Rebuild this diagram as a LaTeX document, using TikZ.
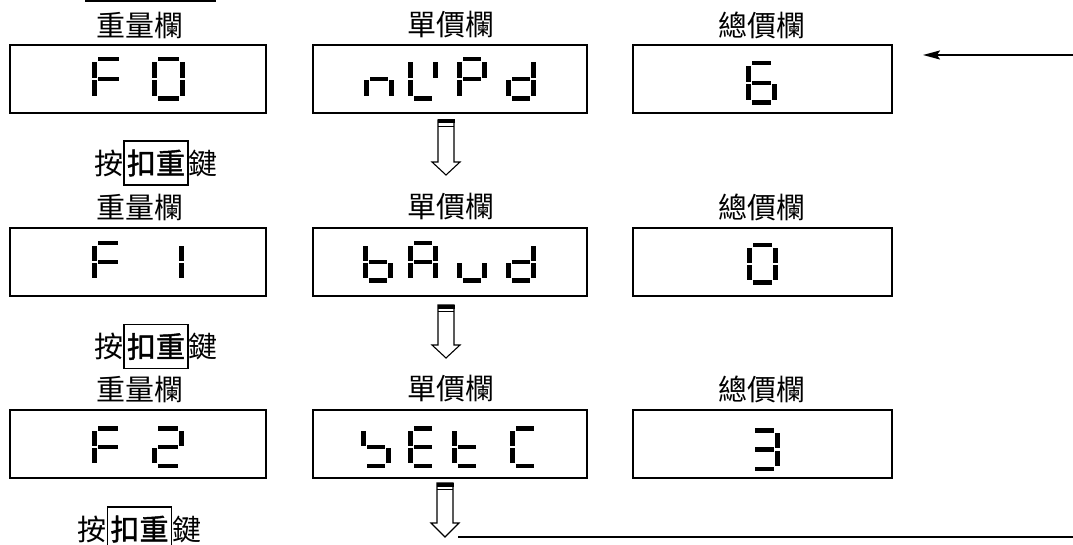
\documentclass[tikz,border=0pt]{standalone}
\usepackage{fontspec}
\newfontfamily\cjk{Noto Sans CJK TC}
\newfontfamily\cjkb[FakeBold=1.6]{Noto Sans CJK TC}
\usetikzlibrary{arrows.meta}
\newcommand\dg[5]{\def\dX{#1}\def\dY{#2}\def\dW{#3}\def\dH{#4}#5}
\newcommand\segA{\fill (\dX+6,\dY) rectangle (\dX+\dW-6,\dY+4.5);}
\newcommand\segB{\fill (\dX+\dW-5,\dY+5) rectangle (\dX+\dW,\dY+\dH/2-1.2);}
\newcommand\segC{\fill (\dX+\dW-5,\dY+\dH/2+1.2) rectangle (\dX+\dW,\dY+\dH-5);}
\newcommand\segD{\fill (\dX+6,\dY+\dH-4.5) rectangle (\dX+\dW-6,\dY+\dH);}
\newcommand\segE{\fill (\dX,\dY+\dH/2+1.2) rectangle (\dX+5,\dY+\dH-5);}
\newcommand\segF{\fill (\dX,\dY+5) rectangle (\dX+5,\dY+\dH/2-1.2);}
\newcommand\segG{\fill (\dX+6,\dY+\dH/2-2.25) rectangle (\dX+\dW-6,\dY+\dH/2+2.25);}
\newcommand\openarr[4]{%
  \draw[line width=1.1pt] (#1-8,#2) -- (#1-8,#3) -- (#1-14,#3) -- (#1,#4) -- (#1+14,#3) -- (#1+8,#3) -- (#1+8,#2) -- cycle;
  \fill (#1-8.5,#2-0.5) rectangle (#1+8.5,#2+3.5);
  \draw[line width=1pt] (#1-8,#2+6.5) -- (#1+8,#2+6.5);}
\tikzset{
  lbl/.style={font=\cjk\fontsize{29}{29}\selectfont, inner sep=0pt},
  keyb/.style={draw, line width=1.2pt, font=\cjkb\fontsize{29}{29}\selectfont, inner xsep=3pt, inner ysep=0pt, minimum height=44pt},
  disp/.style={draw, line width=1.7pt, minimum height=68pt, inner sep=0pt},
  loopline/.style={line width=1.8pt},
}
\begin{document}
\begin{tikzpicture}[x=1pt,y=-1pt]
\useasboundingbox (0,0) rectangle (1073,545);
\draw[line width=2.4pt] (85,1) -- (216,1);
% row labels
\foreach \r/\yy in {1/25,2/207,3/389}{
  \node[lbl] (w\r) at (140,\yy) {重量欄};
  \node[lbl] (u\r) at (451,\yy) {單價欄};
  \node[lbl] (t\r) at (762,\yy) {總價欄};
}
% displays
\foreach \r/\yy in {1/79,2/262,3/444}{
  \node[disp, minimum width=256pt] (a\r) at (138,\yy) {};
  \node[disp, minimum width=274pt] (b\r) at (450,\yy) {};
  \node[disp, minimum width=259pt] (c\r) at (762.5,\yy) {};
}
% key presses
\node[keyb] (k1) at (156,163) {扣重};
\node[lbl, anchor=east] (k1a) at (k1.west) {按};
\node[lbl, anchor=west] (k1b) at (k1.east) {鍵};
\node[keyb] (k2) at (156,346.5) {扣重};
\node[lbl, anchor=east] (k2a) at (k2.west) {按};
\node[lbl, anchor=west] (k2b) at (k2.east) {鍵};
\node[keyb] (k3) at (139.5,529) {扣重};
\node[lbl, anchor=east] (k3a) at (k3.west) {按};
\node[lbl, anchor=west] (k3b) at (k3.east) {鍵};
% row 1 digits
\dg{92}{57}{33}{44}{\segA\segF\segG\segE}
\dg{152}{57}{33}{44}{\segA\segB\segC\segD\segE\segF}
\dg{364}{57}{30}{44}{\segG\segE\segC}
\dg{408}{57}{30}{44}{\segF\segB\segE\segD}
\dg{457}{57}{30}{44}{\segA\segB\segF\segG\segE}
\dg{506}{57}{30}{44}{\segB\segC\segD\segE\segG}
\dg{746}{61}{31}{44}{\segA\segF\segG\segE\segC\segD}
% row 2 digits
\dg{92}{241}{32}{42}{\segA\segF\segG\segE}
\dg{152}{241}{32}{42}{\segB\segC}
\dg{363}{241}{30}{42}{\segF\segE\segG\segC\segD}
\dg{408}{241}{30}{42}{\segA\segB\segC\segE\segF\segG}
\dg{457}{241}{30}{42}{\segC\segD\segE}
\dg{506}{241}{30}{42}{\segB\segC\segD\segE\segG}
\dg{747}{243}{31}{42}{\segA\segB\segC\segD\segE\segF}
% row 3 digits
\dg{92}{426}{32}{42}{\segA\segF\segG\segE}
\dg{152}{426}{32}{42}{\segA\segB\segG\segE\segD}
\dg{361}{426}{30}{42}{\segF\segG\segC\segD}
\dg{408}{426}{30}{42}{\segA\segF\segG\segE\segD}
\dg{452}{426}{30}{42}{\segF\segE\segG\segD}
\dg{510}{426}{30}{42}{\segA\segF\segE\segD}
\dg{749}{428}{31}{43}{\segA\segB\segG\segC\segD}
% open arrows
\openarr{446}{120}{162}{175}
\openarr{446}{305}{345}{358}
\openarr{445}{483}{523}{537}
% loop back line
\coordinate (lb) at (458,537);
\coordinate (rb) at (1074,537);
\coordinate (rt) at (1074,55);
\coordinate (at) at (923,55);
\draw[loopline] (lb) -- (rb);
\draw[loopline, -{Stealth[length=17pt,width=9pt,inset=3pt]}] (rt) -- (at);
\end{tikzpicture}
\end{document}
